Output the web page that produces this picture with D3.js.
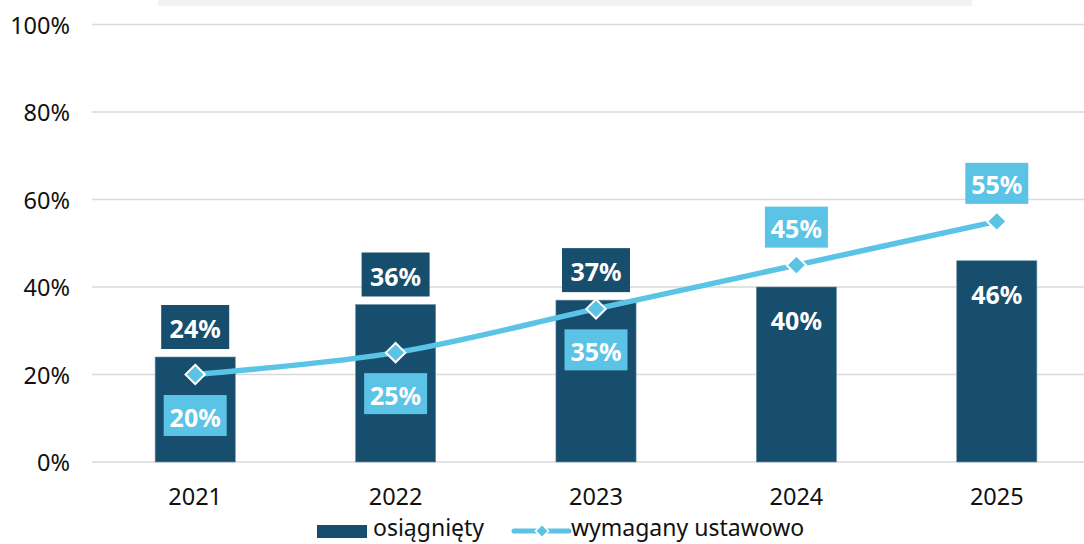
<!DOCTYPE html>
<html>
<head>
<meta charset="utf-8">
<script src="https://cdn.jsdelivr.net/npm/d3@7"></script>
<style>
  html, body { margin: 0; padding: 0; background: #fff; }
  svg { display: block; font-family: "Noto Sans", "Open Sans", sans-serif; }
</style>
</head>
<body>
<div id="chart"></div>
<script>
const years = ["2021", "2022", "2023", "2024", "2025"];
const achieved = [0.24, 0.36, 0.37, 0.40, 0.46];
const required = [0.20, 0.25, 0.35, 0.45, 0.55];
const yTicks = [0, 0.2, 0.4, 0.6, 0.8, 1];
const seriesNames = ["osiągnięty", "wymagany ustawowo"];

const navy = "#174E6D";
const sky = "#5BC3E5";
const width = 1084, height = 544;
const textSize = 23.5;

const svg = d3.select("#chart").append("svg")
    .attr("width", width)
    .attr("height", height);

// faint title placeholder strip at the very top
svg.append("rect")
    .attr("x", 158).attr("y", 0)
    .attr("width", 814).attr("height", 6)
    .attr("fill", "#f2f2f2");

const x = d3.scaleBand()
    .domain(years)
    .range([95, 1097])
    .paddingInner(0.6)
    .paddingOuter(0.3);

const y = d3.scaleLinear()
    .domain([0, 1])
    .range([462, 24.5]);

const cx = (d) => x(d) + x.bandwidth() / 2;

// grid
svg.append("g")
    .selectAll("line")
    .data(yTicks)
    .join("line")
    .attr("x1", 92).attr("x2", width)
    .attr("y1", (d) => y(d)).attr("y2", (d) => y(d))
    .attr("stroke", "#d9d9d9")
    .attr("stroke-width", 1.5);

// y axis labels
svg.append("g")
    .selectAll("text")
    .data(yTicks)
    .join("text")
    .attr("x", 70)
    .attr("y", (d) => y(d))
    .attr("text-anchor", "end")
    .attr("dominant-baseline", "central")
    .attr("font-size", textSize)
    .attr("fill", "#111")
    .text(d3.format(".0%"));

// x axis labels
svg.append("g")
    .selectAll("text")
    .data(years)
    .join("text")
    .attr("x", cx)
    .attr("y", 496)
    .attr("text-anchor", "middle")
    .attr("dominant-baseline", "central")
    .attr("font-size", textSize)
    .attr("fill", "#111")
    .text((d) => d);

// bars
svg.append("g")
    .selectAll("rect")
    .data(years)
    .join("rect")
    .attr("x", (d) => x(d))
    .attr("y", (d, i) => y(achieved[i]))
    .attr("width", x.bandwidth())
    .attr("height", (d, i) => y(0) - y(achieved[i]))
    .attr("fill", navy)
    .attr("stroke", "#6f93a8")
    .attr("stroke-width", 0.6);

// line
const pts = years.map((d, i) => [cx(d), y(required[i])]);
svg.append("path")
    .attr("d", d3.line().curve(d3.curveCatmullRom.alpha(0.5))(pts))
    .attr("fill", "none")
    .attr("stroke", sky)
    .attr("stroke-width", 5.5);

const diamond = d3.symbol().type(d3.symbolDiamond2).size(240);
svg.append("g")
    .selectAll("path")
    .data(pts)
    .join("path")
    .attr("transform", (p) => `translate(${p[0]},${p[1]})`)
    .attr("d", diamond)
    .attr("fill", sky)
    .attr("stroke", "#fff")
    .attr("stroke-width", 2);

// data labels
function labelBox(g, px, py, w, h, fill, text) {
    g.append("rect")
        .attr("x", px - w / 2).attr("y", py - h / 2)
        .attr("width", w).attr("height", h)
        .attr("fill", fill);
    g.append("text")
        .attr("x", px).attr("y", py + 1)
        .attr("text-anchor", "middle")
        .attr("dominant-baseline", "central")
        .attr("font-size", 25)
        .attr("font-weight", 700)
        .attr("fill", "#fff")
        .text(text);
}

const labels = svg.append("g");
const pct = d3.format(".0%");
years.forEach((d, i) => {
    const lineAbove = required[i] > achieved[i];
    const barTop = y(achieved[i]);
    const pt = y(required[i]);
    if (lineAbove) {
        labelBox(labels, cx(d), barTop + 32, 66, 43, navy, pct(achieved[i]));
        labelBox(labels, cx(d), pt - 38, 63, 41, sky, pct(required[i]));
    } else {
        labelBox(labels, cx(d), barTop - 30, 68, 44, navy, pct(achieved[i]));
        labelBox(labels, cx(d), pt + 41, 63, 41, sky, pct(required[i]));
    }
});

// legend
const legend = svg.append("g");
legend.append("rect")
    .attr("x", 317).attr("y", 525)
    .attr("width", 50).attr("height", 13)
    .attr("fill", navy);
legend.append("text")
    .attr("x", 373).attr("y", 527)
    .attr("dominant-baseline", "central")
    .attr("font-size", 23)
    .attr("fill", "#111")
    .text(seriesNames[0]);
legend.append("line")
    .attr("x1", 514).attr("x2", 569)
    .attr("y1", 531).attr("y2", 531)
    .attr("stroke", sky)
    .attr("stroke-width", 5)
    .attr("stroke-linecap", "round");
legend.append("path")
    .attr("transform", "translate(542,531)")
    .attr("d", d3.symbol().type(d3.symbolDiamond2).size(110))
    .attr("fill", sky)
    .attr("stroke", "#fff")
    .attr("stroke-width", 1.5);
legend.append("text")
    .attr("x", 571).attr("y", 527)
    .attr("dominant-baseline", "central")
    .attr("font-size", 23)
    .attr("fill", "#111")
    .text(seriesNames[1]);
</script>
</body>
</html>
